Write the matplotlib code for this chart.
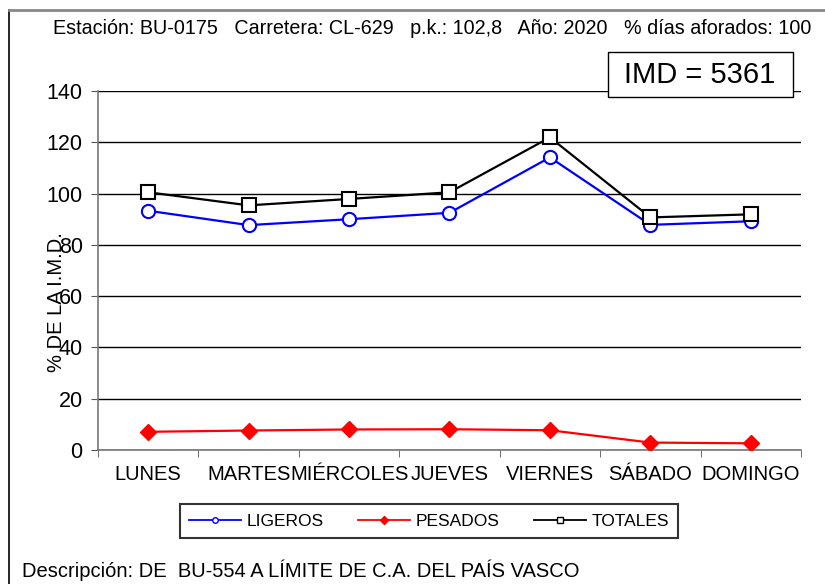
import numpy as np
import matplotlib.pyplot as plt
from matplotlib.lines import Line2D
from matplotlib.patches import Rectangle

plt.rcParams['font.family'] = ['Liberation Sans', 'DejaVu Sans']

# Datos de la estación
dias = ['LUNES', 'MARTES', 'MIÉRCOLES', 'JUEVES', 'VIERNES', 'SÁBADO', 'DOMINGO']
ligeros = [93.3, 87.7, 90.0, 92.5, 114.1, 87.8, 89.2]
pesados = [7.1, 7.6, 8.0, 8.1, 7.7, 2.9, 2.6]
totales = [100.5, 95.4, 97.9, 100.5, 121.9, 90.7, 91.9]
imd = 5361

cabecera = 'Estación: BU-0175   Carretera: CL-629   p.k.: 102,8   Año: 2020   % días aforados: 100'
descripcion = 'Descripción: DE  BU-554 A LÍMITE DE C.A. DEL PAÍS VASCO'

W, H = 825, 584
fig = plt.figure(figsize=(W / 100, H / 100), dpi=100)
ax = fig.add_axes([98 / W, 1 - 450 / H, 703 / W, 359 / H])

x = np.arange(len(dias))
ax.plot(x, ligeros, color='#0000ff', lw=1.6, marker='o', ms=9.5,
        mfc='white', mec='#0000ff', mew=1.5, zorder=3)
ax.plot(x, pesados, color='#ff0000', lw=1.6, marker='D', ms=8,
        mfc='#ff0000', mec='#ff0000', zorder=3)
ax.plot(x, totales, color='black', lw=1.6, marker='s', ms=10,
        mfc='white', mec='black', mew=1.5, zorder=4)

ax.set_xlim(-0.5, len(dias) - 0.5)
ax.set_ylim(0, 140)
ax.set_yticks(np.arange(0, 141, 20))
ax.set_xticks(x)
ax.set_xticklabels(dias, fontsize=14.5)
ax.set_xticks(np.arange(-0.5, len(dias), 1), minor=True)
ax.tick_params(axis='x', which='major', length=0, pad=11)
ax.tick_params(axis='x', which='minor', length=5, color='#555555', direction='out')
ax.tick_params(axis='y', labelsize=15.5, length=5, color='#555555', pad=6)
ax.grid(axis='y', color='black', lw=1.0)
ax.set_axisbelow(True)
for s in ['top', 'right']:
    ax.spines[s].set_visible(False)
for s in ['left', 'bottom']:
    ax.spines[s].set_color('#777777')
    ax.spines[s].set_linewidth(1.2)

fig.text(56 / W, 1 - 302 / H, '% DE LA I.M.D.', rotation=90,
         ha='center', va='center', fontsize=14.5)

fig.text(432 / W, 1 - 28 / H, cabecera, ha='center', va='center', fontsize=14.2)

# Recuadro con la IMD
fig.add_artist(Rectangle((608 / W, 1 - 97 / H), 185 / W, 45 / H,
                         transform=fig.transFigure, fill=True, fc='white',
                         ec='black', lw=1.0, zorder=5))
fig.text(700 / W, 1 - 75 / H, f'IMD = {imd}', ha='center', va='center',
         fontsize=21, zorder=6)

handles = [
    Line2D([], [], color='#0000ff', lw=1.3, marker='o', ms=4, mfc='white', mec='#0000ff'),
    Line2D([], [], color='#ff0000', lw=1.3, marker='D', ms=4, mfc='#ff0000', mec='#ff0000'),
    Line2D([], [], color='black', lw=1.3, marker='s', ms=4, mfc='white', mec='black'),
]
leg = fig.legend(handles, ['LIGEROS', 'PESADOS', 'TOTALES'], ncol=3,
                 loc='center', bbox_to_anchor=(429 / W, 1 - 521 / H),
                 fontsize=12.5, frameon=True, fancybox=False, handlelength=3.0,
                 columnspacing=2.0, handletextpad=0.3, borderpad=0.55,
                 borderaxespad=0)
leg.get_frame().set_edgecolor('black')
leg.get_frame().set_linewidth(1.5)

fig.text(22 / W, 1 - 570 / H, descripcion, ha='left', va='center', fontsize=14.5)

# Marco exterior
fig.add_artist(Line2D([9 / W, 9 / W], [0, 1 - 10 / H], color='black', lw=1.2,
                      transform=fig.transFigure))
fig.add_artist(Line2D([9 / W, 1], [1 - 10 / H, 1 - 10 / H], color='#888888', lw=2,
                      transform=fig.transFigure))

fig.savefig('out.png', dpi=100)
